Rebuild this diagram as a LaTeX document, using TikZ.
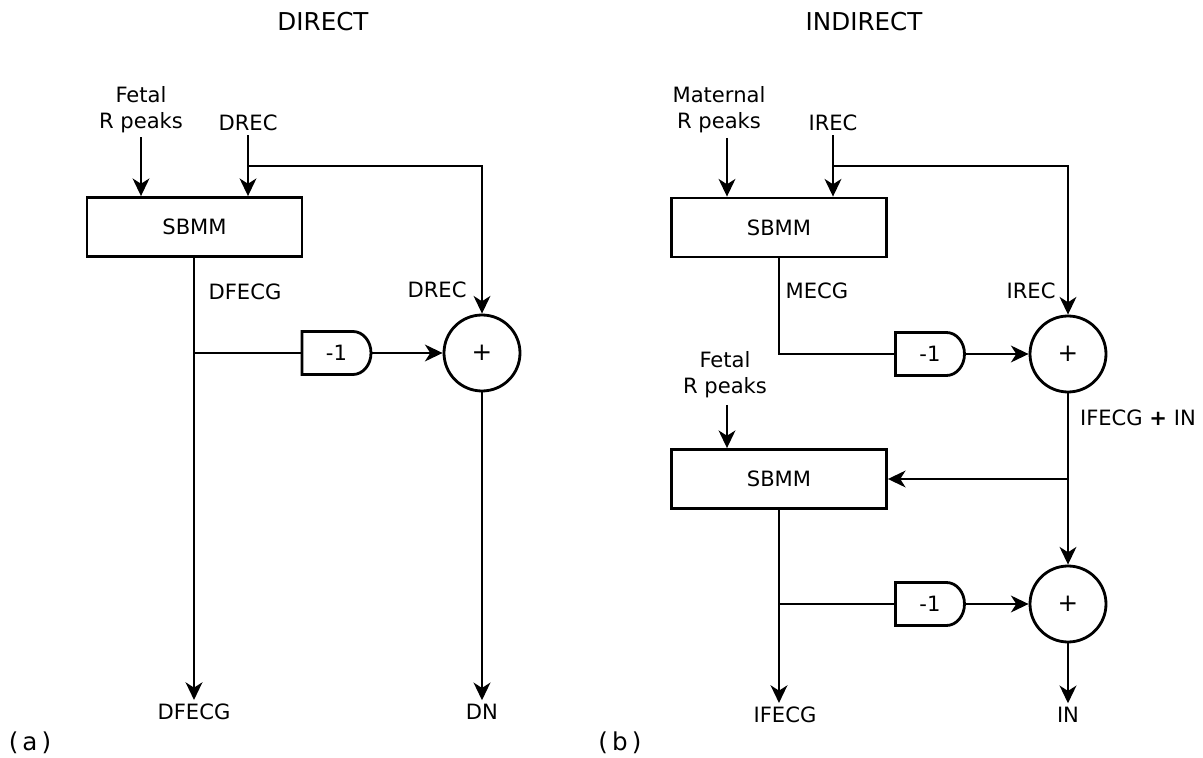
\documentclass[tikz,border=0pt]{standalone}
\usepackage{fontspec}
\setmainfont{DejaVu Sans}
\usetikzlibrary{arrows.meta}

% outline of a gain block: flat left side, round right end
\newcommand{\gainshape}[1]{%
  \draw (#1.south west) -- (#1.north west) -- ([xshift=-0.36cm]#1.north east)
    arc[start angle=90,end angle=-90,x radius=0.36cm,y radius=0.43cm] -- cycle;}

\begin{document}
\begin{tikzpicture}[line width=1.6pt,font=\fontsize{12}{15}\selectfont,
  >={Stealth[length=10pt,width=9.5pt,inset=3pt]},
  blk/.style={draw,minimum width=4.3cm,minimum height=1.18cm,inner sep=0pt},
  sumnode/.style={draw,circle,minimum size=1.52cm,inner sep=0pt,font=\fontsize{14}{16}\selectfont},
  gain/.style={minimum width=1.38cm,minimum height=0.86cm,inner sep=0pt,outer sep=0pt},
  lbl/.style={inner sep=1.5pt,align=center},
  ttl/.style={font=\fontsize{14}{17}\selectfont},
  captxt/.style={font=\fontsize{14}{17}\selectfont}]
  \useasboundingbox (0,0) rectangle (24.06,-15.16);

  % (a) direct
  \node[ttl] (ttla) at (6.46,-0.44){DIRECT};
  \node[lbl] (fetala) at (2.82,-2.2){Fetal\\R peaks};
  \node[lbl] (drec) at (4.96,-2.46){DREC};
  \node[blk] (sbmma) at (3.89,-4.54){SBMM};
  \node[sumnode] (suma) at (9.64,-7.06){+};
  \node[gain] (gaina) at (6.73,-7.06){-1};
  \gainshape{gaina}
  \node[lbl] (dfecgside) at (4.9,-5.84){DFECG};
  \node[lbl] (drecside) at (8.74,-5.8){DREC};
  \node[lbl] (dfecg) at (3.88,-14.24){DFECG};
  \node[lbl] (dn) at (9.64,-14.24){DN};
  \node[captxt] (capa) at (0.6,-14.86){(\,a\,)};
  \coordinate (ja) at (4.96,-3.32);
  \coordinate (ka) at (3.88,-7.06);

  \draw[->] (fetala) -- (fetala |- sbmma.north);
  \draw[->] (drec) -- (drec |- sbmma.north);
  \draw[->] (ja) -| (suma.north);
  \draw[->] (sbmma.south -| dfecg) -- (dfecg.north);
  \draw (ka) -- (gaina.west);
  \draw[->] (gaina.east) -- (suma.west);
  \draw[->] (suma.south) -- (dn.north);

  % (b) indirect
  \node[ttl] (ttlb) at (17.28,-0.44){INDIRECT};
  \node[lbl] (maternal) at (14.38,-2.2){Maternal\\R peaks};
  \node[lbl] (irec) at (16.66,-2.46){IREC};
  \node[blk] (sbmmb) at (15.58,-4.55){SBMM};
  \node[sumnode] (sumb) at (21.36,-7.08){+};
  \node[gain] (gainb) at (18.6,-7.08){-1};
  \gainshape{gainb}
  \node[lbl] (mecg) at (16.34,-5.82){MECG};
  \node[lbl] (irecside) at (20.62,-5.82){IREC};
  \node[lbl] (fetalb) at (14.5,-7.5){Fetal\\R peaks};
  \node[blk] (sbmmc) at (15.58,-9.58){SBMM};
  \node[lbl,anchor=west] (mix) at (21.52,-8.36){IFECG \textbf{+} IN};
  \node[sumnode] (sumc) at (21.36,-12.08){+};
  \node[gain] (gainc) at (18.6,-12.08){-1};
  \gainshape{gainc}
  \node[lbl] (ifecg) at (15.7,-14.3){IFECG};
  \node[lbl] (in) at (21.36,-14.3){IN};
  \node[captxt] (capb) at (12.4,-14.86){(\,b\,)};
  \coordinate (mb) at (14.54,-2.76);
  \coordinate (jb) at (16.66,-3.32);
  \coordinate (fb) at (14.54,-8.1);
  \coordinate (kc) at (15.58,-12.08);

  \draw[->] (mb) -- (mb |- sbmmb.north);
  \draw[->] (irec) -- (irec |- sbmmb.north);
  \draw[->] (jb) -| (sumb.north);
  \draw (sbmmb.south) |- (gainb.west);
  \draw[->] (gainb.east) -- (sumb.west);
  \draw[->] (sumb.south) -- (sumc.north);
  \draw[->] (sumb.south |- sbmmc.east) -- (sbmmc.east);
  \draw[->] (fb) -- (fb |- sbmmc.north);
  \draw[->] (sbmmc.south) -- (sbmmc.south |- ifecg.north);
  \draw (kc) -- (gainc.west);
  \draw[->] (gainc.east) -- (sumc.west);
  \draw[->] (sumc.south) -- (in.north);
\end{tikzpicture}
\end{document}
